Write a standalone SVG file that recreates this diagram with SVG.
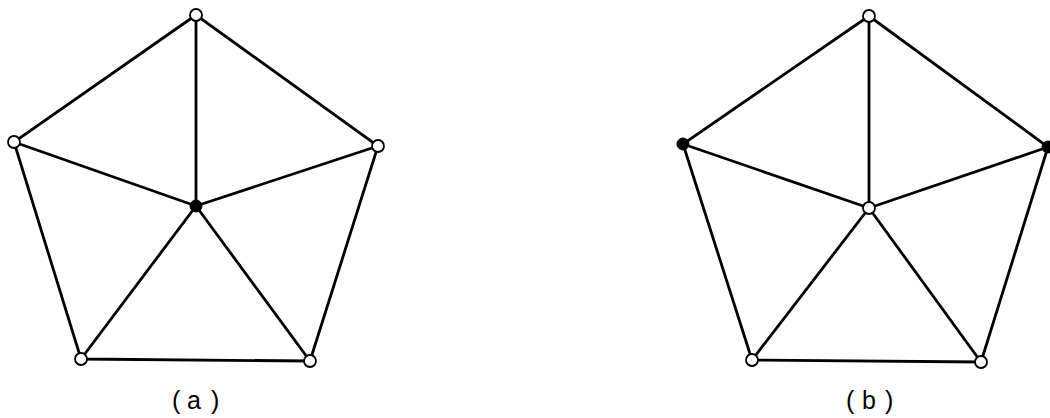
<svg xmlns="http://www.w3.org/2000/svg" width="1050" height="418" viewBox="0 0 1050 418">
<style>
.e{stroke:#000;stroke-width:2.8;fill:none;stroke-linecap:round}
.o{fill:#fff;stroke:#000;stroke-width:1.8}
.f{fill:#000;stroke:#000;stroke-width:1}
.t{font-family:"Liberation Sans",Arial,sans-serif;font-size:25px;fill:#000}
</style>
<rect width="1050" height="418" fill="#fff"/>
<g id="connectors">
<path class="e" d="M196,15 L14,142 L81,359 L310,361 L378,146 Z"/>
<path class="e" d="M196,206 L196,15 M196,206 L14,142 M196,206 L81,359 M196,206 L310,361 M196,206 L378,146"/>
<path class="e" d="M869,16 L683,144 L752,360 L981,362 L1048,147 Z"/>
<path class="e" d="M869,208 L869,16 M869,208 L683,144 M869,208 L752,360 M869,208 L981,362 M869,208 L1048,147"/>
</g>
<g id="a-top"><circle class="o" cx="196" cy="15" r="6"/></g>
<g id="a-left"><circle class="o" cx="14" cy="142" r="6"/></g>
<g id="a-right"><circle class="o" cx="378" cy="146" r="6"/></g>
<g id="a-bl"><circle class="o" cx="81" cy="359" r="6"/></g>
<g id="a-br"><circle class="o" cx="310" cy="361" r="6"/></g>
<g id="a-center"><circle class="f" cx="196" cy="206" r="6"/></g>
<g id="b-top"><circle class="o" cx="869" cy="16" r="6"/></g>
<g id="b-left"><circle class="f" cx="683" cy="144" r="6"/></g>
<g id="b-right"><circle class="f" cx="1048" cy="147" r="6"/></g>
<g id="b-bl"><circle class="o" cx="752" cy="360" r="6"/></g>
<g id="b-br"><circle class="o" cx="981" cy="362" r="6"/></g>
<g id="b-center"><circle class="o" cx="869" cy="208" r="6"/></g>
<g id="labels">
<text class="t" y="409"><tspan x="172">(</tspan><tspan x="187">a</tspan><tspan x="211">)</tspan></text>
<text class="t" y="409"><tspan x="846">(</tspan><tspan x="862">b</tspan><tspan x="885">)</tspan></text>
</g>
</svg>
